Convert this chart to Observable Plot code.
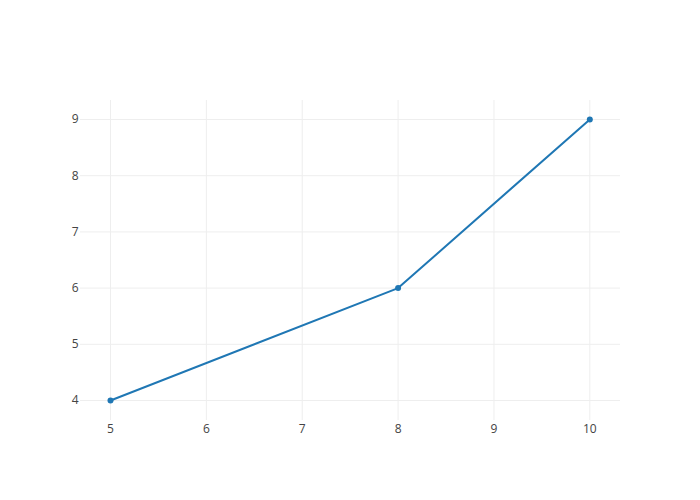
<!DOCTYPE html>
<html>
<head>
<meta charset="utf-8">
<script src="https://cdn.jsdelivr.net/npm/d3@7"></script>
<script src="https://cdn.jsdelivr.net/npm/@observablehq/plot@0.6"></script>
<style>
body { margin: 0; background: #fff; }
</style>
</head>
<body>
<div id="chart"></div>
<script>
const xs = [5, 8, 10];
const ys = [4, 6, 9];
const xTicks = [5, 6, 7, 8, 9, 10];
const yTicks = [4, 5, 6, 7, 8, 9];

const data = xs.map((x, i) => ({x, y: ys[i]}));

const chart = Plot.plot({
  width: 700,
  height: 500,
  marginLeft: 80,
  marginRight: 80,
  marginTop: 100,
  marginBottom: 80,
  style: {fontFamily: "'Open Sans', sans-serif", fontSize: "12px", background: "#fff"},
  x: {domain: [4.687, 10.32], label: null},
  y: {domain: [3.644, 9.338], label: null},
  marks: [
    Plot.gridX(xTicks, {stroke: "#eeeeee", strokeOpacity: 1, strokeWidth: 1}),
    Plot.gridY(yTicks, {stroke: "#eeeeee", strokeOpacity: 1, strokeWidth: 1}),
    Plot.axisX(xTicks, {tickSize: 0, tickPadding: 4, fill: "#444", fontSize: 12, label: null, tickFormat: d3.format("d")}),
    Plot.axisY(yTicks, {tickSize: 0, tickPadding: 2, fill: "#444", fontSize: 12, label: null, tickFormat: d3.format("d")}),
    Plot.line(data, {x: "x", y: "y", stroke: "#1f77b4", strokeWidth: 2}),
    Plot.dot(data, {x: "x", y: "y", fill: "#1f77b4", r: 3, stroke: null})
  ]
});
document.getElementById("chart").appendChild(chart);
</script>
</body>
</html>
